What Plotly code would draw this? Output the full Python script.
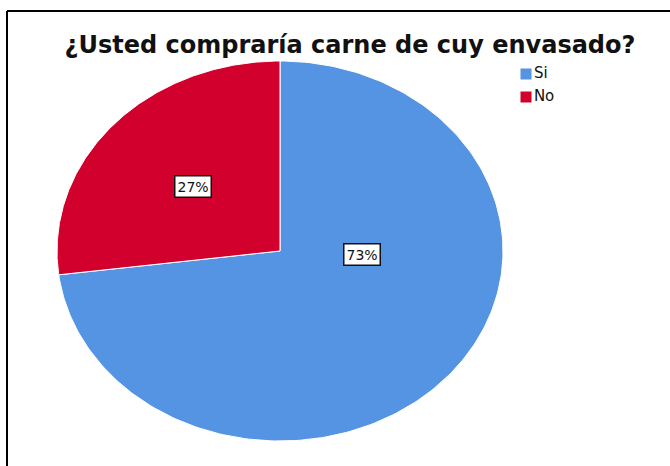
import numpy as np
import plotly.graph_objects as go

# Survey answers and their shares (%)
categories = ["Si", "No"]
values = [73, 27]
colors = ["#5593E3", "#D2002D"]

title_text = "¿Usted compraría carne de cuy envasado?"

# Page geometry (pixel-like coordinates, y grows downward)
W, H = 670, 466
cx, cy = 280, 251          # ellipse centre
rx, ry = 223, 190          # horizontal / vertical radii
start_deg = 90             # first slice starts at 12 o'clock, runs clockwise

FONT = "DejaVu Sans, Liberation Sans, Arial"

# Label positions as fractions of the radii (x right, y up)
label_pos = {"Si": (0.368, -0.02), "No": (-0.39, 0.337)}

fig = go.Figure()

total = float(sum(values))
angle = start_deg
for cat, val, col in zip(categories, values, colors):
    sweep = 360.0 * val / total
    theta = np.radians(np.linspace(angle, angle - sweep, 240))
    xs = np.concatenate([[cx], cx + rx * np.cos(theta), [cx]])
    ys = np.concatenate([[cy], cy - ry * np.sin(theta), [cy]])
    fig.add_trace(go.Scatter(
        x=xs, y=ys, mode="lines", fill="toself", fillcolor=col,
        line=dict(color="white", width=1), name=cat,
        showlegend=False, hoverinfo="name",
    ))
    fx, fy = label_pos[cat]
    fig.add_annotation(
        x=cx + fx * rx, y=cy - fy * ry, xref="x", yref="y",
        text=f"{round(100 * val / total)}%", showarrow=False,
        font=dict(family=FONT, size=14, color="#111111"),
        bgcolor="white", bordercolor="#111111", borderwidth=1.5, borderpad=2,
    )
    angle -= sweep

# Legend: square swatches with category names
leg_x = 526
leg_y = [74, 97]
fig.add_trace(go.Scatter(
    x=[leg_x] * len(categories), y=leg_y, mode="markers+text",
    marker=dict(symbol="square", size=11, color=colors, line=dict(width=0)),
    text=categories, textposition="middle right",
    textfont=dict(family=FONT, size=15, color="#111111"),
    showlegend=False, hoverinfo="skip",
))

# Frame lines along the top and left edges
fig.add_shape(type="line", x0=7, y0=11, x1=W, y1=11, xref="x", yref="y",
              line=dict(color="black", width=2))
fig.add_shape(type="line", x0=7, y0=11, x1=7, y1=H, xref="x", yref="y",
              line=dict(color="black", width=2))

fig.update_layout(
    width=W, height=H, autosize=False,
    margin=dict(l=0, r=0, t=0, b=0),
    paper_bgcolor="white", plot_bgcolor="white",
    title=dict(text=f"<b>{title_text}</b>", x=350 / W, xanchor="center",
               y=1 - 45 / H, yanchor="middle",
               font=dict(family=FONT, size=24, color="#111111")),
    xaxis=dict(range=[0, W], visible=False, fixedrange=True),
    yaxis=dict(range=[H, 0], visible=False, fixedrange=True),
    showlegend=False,
)

fig.write_html("out.html")
